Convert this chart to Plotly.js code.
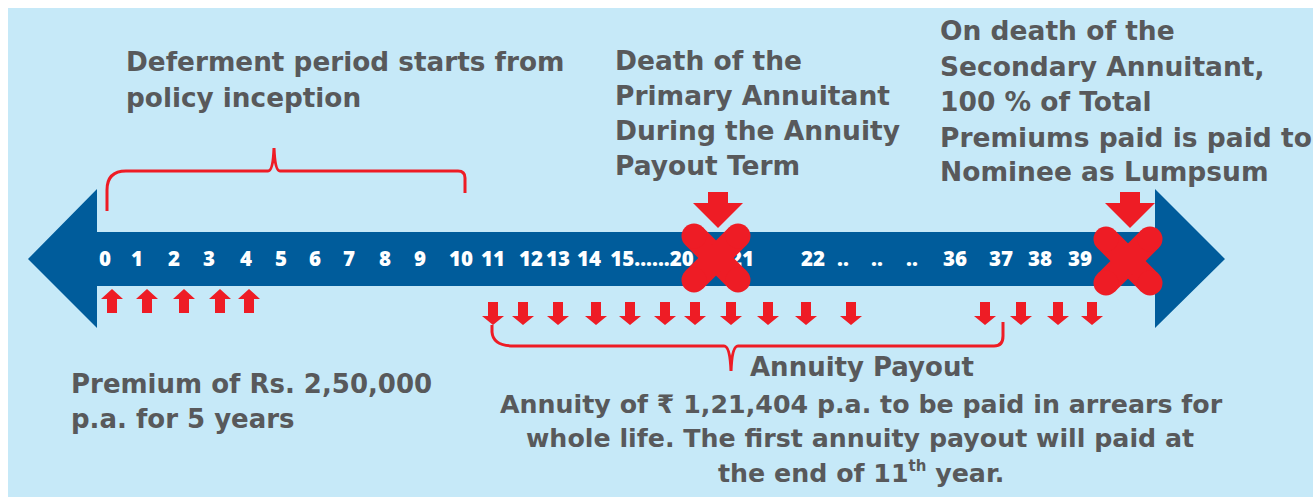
<!DOCTYPE html>
<html>
<head>
<meta charset="utf-8">
<script src="https://cdn.plot.ly/plotly-3.0.1.min.js"></script>
<style>html,body{margin:0;padding:0;background:#fff;}#chart{width:1313px;height:497px;}</style>
</head>
<body>
<div id="chart"></div>
<script>
// ---- data ----
const yearLabels = ['0','1','2','3','4','5','6','7','8','9','10','11','12','13','14','15......20','21','22','..','..','..','36','37','38','39'];
const yearLabelSlots = [105,137,174,209,246,281,315,349,385,420,461,493,531,558,589,652,742,813,843,877,912,955,1001,1040,1080];
const premiumYears = ['0','1','2','3','4'];
const premiumArrowSlots = [112,147,184,220,249];
const payoutArrowSlots = [493,523,558,596,630,665,695,731,768,806,851,985,1021,1058,1092];
const deathEvents = ['Primary Annuitant death','Secondary Annuitant death'];
const deathSlots = [716,1128];
const deathRow = [258,261];

const textGrey = '#58595B';
const red = '#EE1C25';
const blue = '#005C9B';
const bg = '#C6E9F8';

const shapes = [];
// background panel
shapes.push({type:'rect', xref:'x', yref:'y', x0:8, x1:1313, y0:8, y1:497, fillcolor:bg, line:{width:0}, layer:'below'});
// timeline band + arrow heads
shapes.push({type:'path', xref:'x', yref:'y', layer:'below', fillcolor:blue, line:{width:0},
  path:'M 28,259 L 97,189 L 97,232 L 1155,232 L 1155,189 L 1225,259 L 1155,328 L 1155,286 L 97,286 L 97,328 Z'});

function upArrow(cx){
  return `M ${cx-11},299 L ${cx},289 L ${cx+11},299 L ${cx+5},299 L ${cx+5},313 L ${cx-5},313 L ${cx-5},299 Z`;
}
function downArrow(cx){
  return `M ${cx-5},302 L ${cx+5},302 L ${cx+5},316 L ${cx+11},316 L ${cx},325 L ${cx-11},316 L ${cx-5},316 Z`;
}
function bigDown(cx){
  return `M ${cx-10},192 L ${cx+10},192 L ${cx+10},203 L ${cx+25},203 L ${cx},228 L ${cx-25},203 L ${cx-10},203 Z`;
}
premiumArrowSlots.forEach(cx => shapes.push({type:'path', xref:'x', yref:'y', path:upArrow(cx), fillcolor:red, line:{width:0}}));
payoutArrowSlots.forEach(cx => shapes.push({type:'path', xref:'x', yref:'y', path:downArrow(cx), fillcolor:red, line:{width:0}}));
deathSlots.forEach(cx => shapes.push({type:'path', xref:'x', yref:'y', path:bigDown(cx+2), fillcolor:red, line:{width:0}}));

// braces
shapes.push({type:'path', xref:'x', yref:'y', line:{color:red, width:3},
  path:'M 107,211 L 107,190 Q 107,171 126,171 L 268,171 Q 273,171 274,148 Q 275,171 280,171 L 458,171 Q 465,171 465,178 L 465,193'});
shapes.push({type:'path', xref:'x', yref:'y', line:{color:red, width:3},
  path:'M 492,325 L 492,332 Q 493,346 514,346 L 724,346 Q 730,346 731,371 Q 732,346 738,346 L 994,346 Q 1003,346 1003,336 L 1003,322'});

// ---- traces ----
const traces = [];
traces.push({type:'scatter', mode:'text', x:yearLabelSlots, y:yearLabels.map(()=>261), text:yearLabels,
  textposition:'middle center', textfont:{family:'Open Sans', size:20.5, color:'#FFFFFF', weight:800},
  hoverinfo:'skip', showlegend:false, cliponaxis:false});

deathSlots.forEach((cx,i) => {
  const cy = deathRow[i], d = 22;
  traces.push({type:'scatter', mode:'lines+markers', name:deathEvents[i],
    x:[cx-d, cx+d, null, cx+d, cx-d], y:[cy-d, cy+d, null, cy-d, cy+d],
    line:{color:red, width:25}, marker:{color:red, size:25, line:{width:0}},
    hoverinfo:'skip', showlegend:false, cliponaxis:false});
});

// ---- text annotations ----
const F = 'DejaVu Sans';
function line(text, x, y, anchor, size){
  return {xref:'x', yref:'y', x:x, y:y, text:text, showarrow:false, xanchor:anchor, yanchor:'middle',
    font:{family:F, size:size, color:textGrey, weight:700}};
}
const annotations = [
  line('Deferment period starts from', 124, 62, 'left', 26.3),
  line('policy inception', 124, 98, 'left', 26.3),
  line('Death of the', 613, 60, 'left', 26.5),
  line('Primary Annuitant', 613, 95, 'left', 26.5),
  line('During the Annuity', 613, 130, 'left', 26.5),
  line('Payout Term', 613, 165, 'left', 26.5),
  line('On death of the', 938, 30, 'left', 26.5),
  line('Secondary Annuitant,', 938, 66, 'left', 26.5),
  line('100 % of Total', 938, 101, 'left', 26.5),
  line('Premiums paid is paid to', 938, 137, 'left', 26.5),
  line('Nominee as Lumpsum', 938, 171, 'left', 26.5),
  line('Premium of Rs. 2,50,000', 69, 384, 'left', 26),
  line('p.a. for 5 years', 69, 419, 'left', 26),
  line('Annuity Payout', 862, 367, 'center', 26),
  line('Annuity of ₹ 1,21,404 p.a. to be paid in arrears for', 861, 404, 'center', 25.3),
  line('whole life. The first annuity payout will paid at', 860, 438, 'center', 25.3),
  line('the end of 11<sup><span style="font-size:15px">th</span></sup> year.', 861, 472, 'center', 25.3)
];

const layout = {
  width:1313, height:497, margin:{l:0,r:0,t:0,b:0,pad:0},
  paper_bgcolor:'#FFFFFF', plot_bgcolor:'#FFFFFF',
  xaxis:{range:[0,1313], visible:false, fixedrange:true},
  yaxis:{range:[497,0], visible:false, fixedrange:true},
  shapes:shapes, annotations:annotations, showlegend:false, hovermode:false
};
Plotly.newPlot('chart', traces, layout, {staticPlot:true, displayModeBar:false});
</script>
</body>
</html>
